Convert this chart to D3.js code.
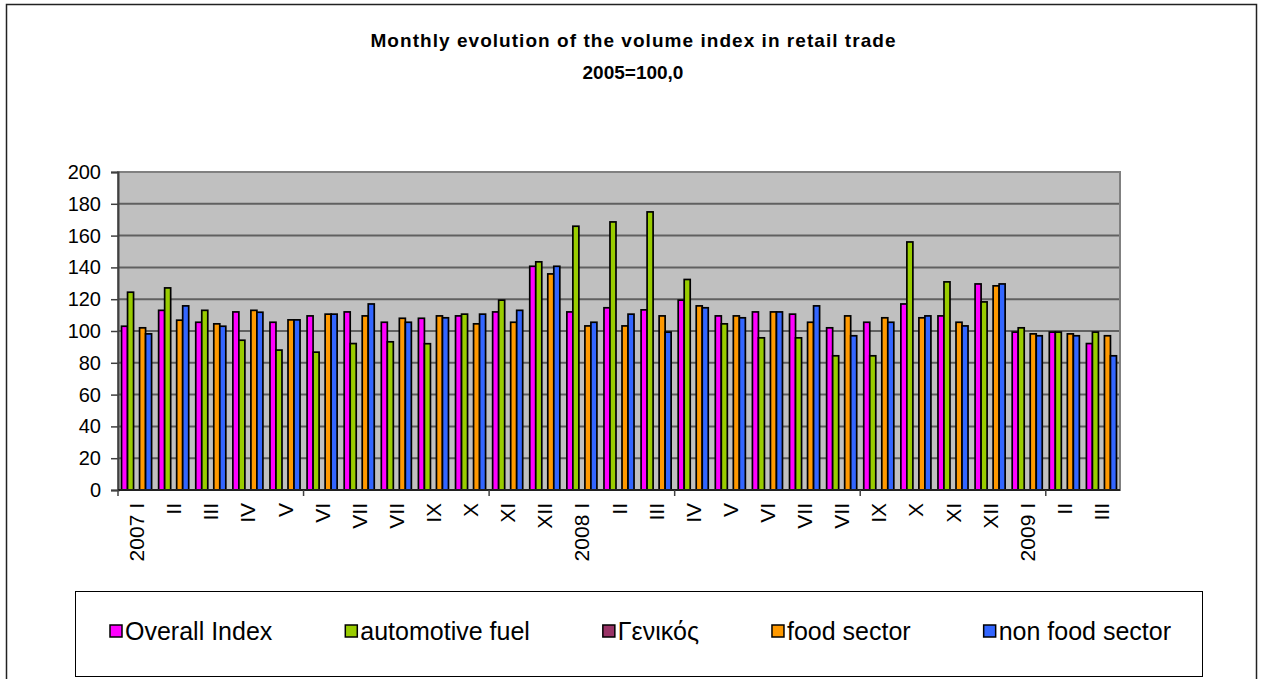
<!DOCTYPE html>
<html>
<head>
<meta charset="utf-8">
<script src="https://cdn.jsdelivr.net/npm/d3@7"></script>
<style>
  body { margin: 0; background: #fff; }
  svg { display: block; font-family: "Liberation Sans", Arial, sans-serif; }
</style>
</head>
<body>
<svg id="chart" width="1262" height="679"></svg>
<script>
// months shown on the x axis (labels copied as printed)
var months = ["2007 I", "II", "III", "IV", "V", "VI", "VII", "VII", "IX", "X", "XI", "XII",
              "2008 I", "II", "III", "IV", "V", "VI", "VII", "VII", "IX", "X", "XI", "XII",
              "2009 I", "II", "III"];

var overall = [103, 113, 105.5, 112, 105.5, 109.5, 112, 105.5, 108, 109.5, 112, 140.7,
               112, 114.6, 113.3, 119.4, 109.5, 112, 110.6, 102, 105.5, 117, 109.5, 129.6,
               99.3, 99.3, 92.1];
var fuel = [124.4, 127.1, 113, 94.2, 88, 86.7, 92.1, 93.2, 92, 110.6, 119.4, 143.5,
            165.9, 168.6, 174.9, 132.4, 104.5, 95.7, 95.7, 84.4, 84.4, 156, 130.9, 118.3,
            102, 99.3, 99.3];
var genikos = [null, null, null, null, null, null, null, null, null, null, null, null,
               null, null, null, null, null, null, null, null, null, null, null, null,
               null, null, null];
var food = [102, 106.8, 104.5, 113, 107, 110.6, 109.5, 108, 109.5, 104.5, 105.5, 135.9,
            103.2, 103.2, 109.5, 115.8, 109.5, 112, 105.5, 109.5, 108.3, 108.3, 105.5, 128.4,
            98.2, 98.2, 97];
var nonFood = [98.2, 115.8, 103, 111.8, 107, 110.6, 117, 105.5, 108.3, 110.6, 113, 140.7,
               105.5, 110.6, 99.3, 114.6, 108.3, 112, 115.8, 97, 105.5, 109.5, 103.2, 129.6,
               97, 97, 84.4];

var seriesNames = ["Overall Index", "automotive fuel", "Γενικός", "food sector", "non food sector"];
var seriesValues = [overall, fuel, genikos, food, nonFood];
var yTicks = [0, 20, 40, 60, 80, 100, 120, 140, 160, 180, 200];

var colors = ["#ff00ff", "#99cc00", "#993366", "#ff9900", "#3366ff"];

var svg = d3.select("#chart");
var plot = { left: 118, right: 1120, top: 172, bottom: 490 };

// outer chart border
svg.append("rect")
    .attr("x", 6.5).attr("y", 4.5)
    .attr("width", 1250).attr("height", 700)
    .attr("fill", "#fff")
    .attr("stroke", "#222")
    .attr("stroke-width", 1.5);

// title
svg.append("text")
    .attr("x", 633).attr("y", 47)
    .attr("text-anchor", "middle")
    .attr("font-weight", "bold")
    .attr("font-size", 19)
    .attr("textLength", 525)
    .attr("lengthAdjust", "spacing")
    .text("Monthly evolution of the volume index in retail trade");
svg.append("text")
    .attr("x", 633).attr("y", 79)
    .attr("text-anchor", "middle")
    .attr("font-weight", "bold")
    .attr("font-size", 19)
    .text("2005=100,0");

var x = d3.scaleBand()
    .domain(d3.range(months.length))
    .range([plot.left, plot.right])
    .paddingInner(0.19)
    .paddingOuter(0.095);

var xs = d3.scaleBand()
    .domain(d3.range(seriesNames.length))
    .range([0, x.bandwidth()]);

var y = d3.scaleLinear()
    .domain([0, 200])
    .range([plot.bottom, plot.top]);

// plot background
svg.append("rect")
    .attr("x", plot.left).attr("y", plot.top)
    .attr("width", plot.right - plot.left)
    .attr("height", plot.bottom - plot.top)
    .attr("fill", "#c0c0c0");

// gridlines
svg.append("g")
    .selectAll("line")
    .data(yTicks.slice(1))
    .enter().append("line")
    .attr("x1", plot.left).attr("x2", plot.right)
    .attr("y1", function(d) { return y(d); })
    .attr("y2", function(d) { return y(d); })
    .attr("stroke", "#606060")
    .attr("stroke-width", 2);

// plot border
svg.append("rect")
    .attr("x", plot.left).attr("y", plot.top)
    .attr("width", plot.right - plot.left)
    .attr("height", plot.bottom - plot.top)
    .attr("fill", "none")
    .attr("stroke", "#808080")
    .attr("stroke-width", 2);

// bars
var groups = svg.append("g")
    .selectAll("g")
    .data(seriesValues)
    .enter().append("g")
    .attr("fill", function(d, i) { return colors[i]; });

groups.each(function(vals, si) {
    d3.select(this).selectAll("rect")
        .data(vals.map(function(v, mi) { return { v: v, m: mi }; })
                  .filter(function(d) { return d.v !== null; }))
        .enter().append("rect")
        .attr("x", function(d) { return x(d.m) + xs(si); })
        .attr("y", function(d) { return y(d.v); })
        .attr("width", xs.bandwidth())
        .attr("height", function(d) { return y(0) - y(d.v); })
        .attr("stroke", "#000")
        .attr("stroke-width", 1.7);
});

// y axis
var yAxis = svg.append("g")
    .attr("transform", "translate(" + plot.left + ",0)")
    .call(d3.axisLeft(y).tickValues(yTicks).tickSize(7).tickPadding(10));
yAxis.select(".domain").attr("stroke", "#404040").attr("stroke-width", 2);
yAxis.selectAll(".tick line").attr("stroke", "#404040").attr("stroke-width", 1.5);
yAxis.selectAll("text")
    .attr("font-size", 20)
    .attr("font-family", "Liberation Sans, Arial, sans-serif")
    .attr("fill", "#000");

// x axis line and tick marks every 5 months
svg.append("line")
    .attr("x1", plot.left).attr("x2", plot.right)
    .attr("y1", plot.bottom).attr("y2", plot.bottom)
    .attr("stroke", "#202020")
    .attr("stroke-width", 2);

var step = x.step();
svg.append("g")
    .selectAll("line")
    .data(d3.range(0, months.length, 5))
    .enter().append("line")
    .attr("x1", function(d) { return x(d) - step * x.paddingInner() / 2; })
    .attr("x2", function(d) { return x(d) - step * x.paddingInner() / 2; })
    .attr("y1", plot.bottom).attr("y2", plot.bottom + 6)
    .attr("stroke", "#404040")
    .attr("stroke-width", 1.5);

svg.append("g")
    .selectAll("text")
    .data(months)
    .enter().append("text")
    .attr("transform", function(d, i) {
        return "translate(" + (x(i) + x.bandwidth() / 2) + "," + (plot.bottom + 13) + ") rotate(-90)";
    })
    .attr("text-anchor", "end")
    .attr("dominant-baseline", "central")
    .attr("font-size", 21)
    .text(function(d) { return d; });

// legend
svg.append("rect")
    .attr("x", 75.5).attr("y", 591.5)
    .attr("width", 1127).attr("height", 85)
    .attr("fill", "#fff")
    .attr("stroke", "#000")
    .attr("stroke-width", 1);

var legendX = 110;
seriesNames.forEach(function(name, i) {
    var item = svg.append("g").attr("transform", "translate(" + legendX + ",0)");
    item.append("rect")
        .attr("x", 0).attr("y", 625)
        .attr("width", 12).attr("height", 12)
        .attr("fill", colors[i])
        .attr("stroke", "#000")
        .attr("stroke-width", 1.5);
    var t = item.append("text")
        .attr("x", 15).attr("y", 640)
        .attr("font-size", 25)
        .text(name);
    legendX += 15 + t.node().getComputedTextLength() + 73;
});
</script>
</body>
</html>
